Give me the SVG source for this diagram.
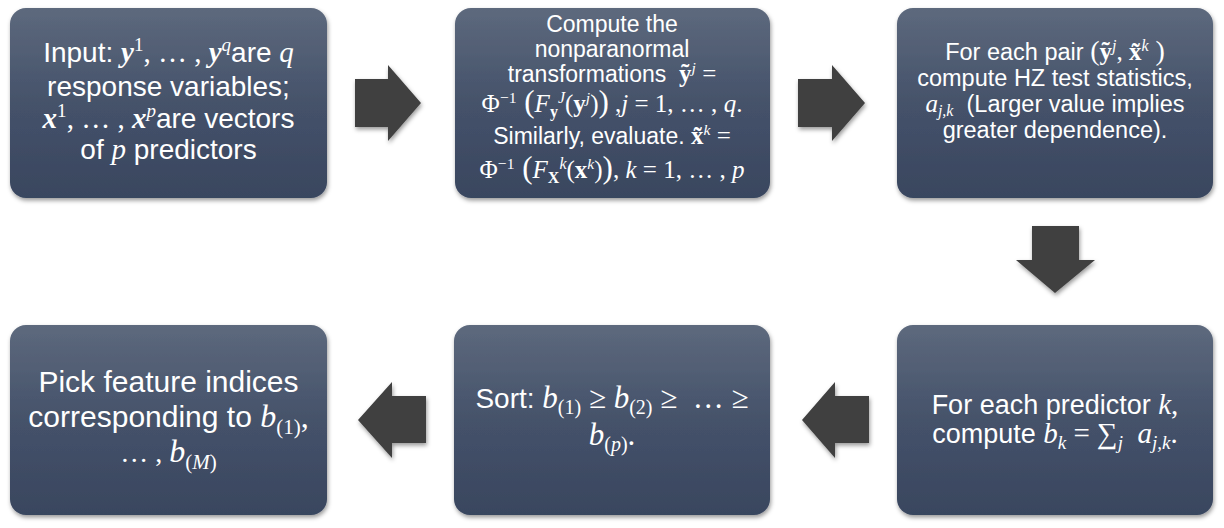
<svg xmlns="http://www.w3.org/2000/svg" width="1224" height="528" viewBox="0 0 1224 528">
<defs>
  <linearGradient id="boxGrad" x1="0" y1="0" x2="0" y2="1">
    <stop offset="0" stop-color="#5d697d"/>
    <stop offset="0.5" stop-color="#45526a"/>
    <stop offset="1" stop-color="#39465f"/>
  </linearGradient>
  <filter id="shadow" x="-10%" y="-10%" width="120%" height="125%">
    <feDropShadow dx="1" dy="2.5" stdDeviation="2" flood-color="#000" flood-opacity="0.4"/>
  </filter>
  <style>
    .box { fill: url(#boxGrad); filter: url(#shadow); }
    .arrow { fill: #404040; filter: url(#shadow); }
    text { font-family: "Liberation Sans", Arial, sans-serif; fill: #ffffff; text-anchor: middle; }
    .m { font-family: "Liberation Serif", "Times New Roman", serif; }
    .i { font-family: "Liberation Serif", "Times New Roman", serif; font-style: italic; }
    .b { font-family: "Liberation Serif", "Times New Roman", serif; font-weight: bold; }
    .bi { font-family: "Liberation Serif", "Times New Roman", serif; font-weight: bold; font-style: italic; }
    .sm { font-size: 68%; }
    #node-input text { font-size: 28px; }
    #node-transform text { font-size: 23px; }
    #node-hz text { font-size: 23.5px; }
    #node-sum text { font-size: 27px; }
    #node-sort text { font-size: 28px; }
    #node-pick text { font-size: 30px; }
  </style>
</defs>

<g id="connectors">
  <polygon class="arrow" points="355,79 388,79 388,65 421,103 388,141 388,127 355,127"/>
  <polygon class="arrow" points="798,79 832,79 832,65 865,103 832,141 832,127 798,127"/>
  <polygon class="arrow" points="1032,226 1079,226 1079,260 1095,260 1055,293 1016,260 1032,260"/>
  <polygon class="arrow" points="869,396 835,396 835,382 802,420 835,458 835,443 869,443"/>
  <polygon class="arrow" points="426,396 392,396 392,382 358,420 392,458 392,443 426,443"/>
</g>

<g id="node-input">
  <rect class="box" x="10" y="8" width="317" height="190" rx="16"/>
  <text x="168.5" y="62">Input: <tspan class="bi" font-size="29">y</tspan><tspan class="m sm" baseline-shift="11">1</tspan><tspan class="m" font-size="29">, … , </tspan><tspan class="bi" font-size="29">y</tspan><tspan class="i sm" baseline-shift="11">q</tspan>are <tspan class="i" font-size="29">q</tspan></text>
  <text x="168.5" y="96">response variables;</text>
  <text x="168.5" y="128"><tspan class="bi" font-size="29">x</tspan><tspan class="m sm" baseline-shift="11">1</tspan><tspan class="m" font-size="29">, … , </tspan><tspan class="bi" font-size="29">x</tspan><tspan class="i sm" baseline-shift="11">p</tspan>are vectors</text>
  <text x="168.5" y="159">of <tspan class="i" font-size="29">p</tspan> predictors</text>
</g>

<g id="node-transform">
  <rect class="box" x="455" y="8" width="315" height="190" rx="16"/>
  <text x="612" y="32">Compute the</text>
  <text x="612" y="57">nonparanormal</text>
  <text x="612" y="82">transformations&#160; <tspan class="b" font-size="25">ỹ</tspan><tspan class="i sm" baseline-shift="9">j</tspan><tspan class="m" font-size="25"> =</tspan></text>
  <text x="612" y="112"><tspan class="m" font-size="25">Φ</tspan><tspan class="m sm" baseline-shift="9">−1</tspan><tspan class="m" font-size="31"> (</tspan><tspan class="i" font-size="25">F</tspan><tspan class="b" font-size="16" baseline-shift="-5">y</tspan><tspan class="i" font-size="16" baseline-shift="9">J</tspan><tspan class="m" font-size="25">(</tspan><tspan class="b" font-size="25">y</tspan><tspan class="i sm" baseline-shift="9">j</tspan><tspan class="m" font-size="25">)</tspan><tspan class="m" font-size="31">)</tspan><tspan class="m" font-size="25"> ,</tspan><tspan class="i" font-size="25">j</tspan><tspan class="m" font-size="25"> = 1, … , </tspan><tspan class="i" font-size="25">q</tspan><tspan class="m" font-size="25">.</tspan></text>
  <text x="612" y="144">Similarly, evaluate. <tspan class="b" font-size="25">x̃</tspan><tspan class="i sm" baseline-shift="9">k</tspan><tspan class="m" font-size="25"> =</tspan></text>
  <text x="612" y="178"><tspan class="m" font-size="25">Φ</tspan><tspan class="m sm" baseline-shift="9">−1</tspan><tspan class="m" font-size="31"> (</tspan><tspan class="i" font-size="25">F</tspan><tspan class="b" font-size="16" baseline-shift="-5">X</tspan><tspan class="i" font-size="16" baseline-shift="9">k</tspan><tspan class="m" font-size="25">(</tspan><tspan class="b" font-size="25">x</tspan><tspan class="i sm" baseline-shift="9">k</tspan><tspan class="m" font-size="25">)</tspan><tspan class="m" font-size="31">)</tspan><tspan class="m" font-size="25">, </tspan><tspan class="i" font-size="25">k</tspan><tspan class="m" font-size="25"> = 1, … , </tspan><tspan class="i" font-size="25">p</tspan></text>
</g>

<g id="node-hz">
  <rect class="box" x="897" y="8" width="316" height="190" rx="16"/>
  <text x="1055" y="60">For each pair <tspan class="m" font-size="28">(</tspan><tspan class="b" font-size="25">ỹ</tspan><tspan class="i sm" baseline-shift="9">j</tspan><tspan class="m" font-size="25">, </tspan><tspan class="b" font-size="25">x̃</tspan><tspan class="i sm" baseline-shift="9">k</tspan><tspan class="m" font-size="28"> )</tspan></text>
  <text x="1055" y="86">compute HZ test statistics,</text>
  <text x="1055" y="112"><tspan class="i" font-size="25">a</tspan><tspan class="i" font-size="16" baseline-shift="-4">j,k</tspan>&#160; (Larger value implies</text>
  <text x="1055" y="138">greater dependence).</text>
</g>

<g id="node-sum">
  <rect class="box" x="897" y="325" width="316" height="190" rx="16"/>
  <text x="1055" y="414">For each predictor <tspan class="i" font-size="29">k</tspan><tspan class="m" font-size="29">,</tspan></text>
  <text x="1055" y="443">compute <tspan class="i" font-size="29">b</tspan><tspan class="i" font-size="19" baseline-shift="-6">k</tspan><tspan class="m" font-size="29"> = ∑</tspan><tspan class="i" font-size="19" baseline-shift="-6">j</tspan><tspan class="m" font-size="29">&#160; </tspan><tspan class="i" font-size="29">a</tspan><tspan class="i" font-size="19" baseline-shift="-6">j,k</tspan><tspan class="m" font-size="29">.</tspan></text>
</g>

<g id="node-sort">
  <rect class="box" x="454" y="325" width="316" height="190" rx="16"/>
  <text x="612" y="408">Sort: <tspan class="i" font-size="31">b</tspan><tspan class="m" font-size="20" baseline-shift="-6">(1)</tspan><tspan class="m" font-size="31"> ≥ </tspan><tspan class="i" font-size="31">b</tspan><tspan class="m" font-size="20" baseline-shift="-6">(2)</tspan><tspan class="m" font-size="31"> ≥&#160; … ≥</tspan></text>
  <text x="612" y="445"><tspan class="i" font-size="31">b</tspan><tspan class="m" font-size="20" baseline-shift="-6">(</tspan><tspan class="i" font-size="20" baseline-shift="-6">p</tspan><tspan class="m" font-size="20" baseline-shift="-6">)</tspan><tspan class="m" font-size="31">.</tspan></text>
</g>

<g id="node-pick">
  <rect class="box" x="10" y="325" width="317" height="190" rx="16"/>
  <text x="168.5" y="392">Pick feature indices</text>
  <text x="168.5" y="427">corresponding to <tspan class="i" font-size="32">b</tspan><tspan class="m" font-size="21" baseline-shift="-7">(1)</tspan><tspan class="m" font-size="32">,</tspan></text>
  <text x="168.5" y="462"><tspan class="m" font-size="28">… , </tspan><tspan class="i" font-size="32">b</tspan><tspan class="m" font-size="21" baseline-shift="-7">(</tspan><tspan class="i" font-size="21" baseline-shift="-7">M</tspan><tspan class="m" font-size="21" baseline-shift="-7">)</tspan></text>
</g>
</svg>
